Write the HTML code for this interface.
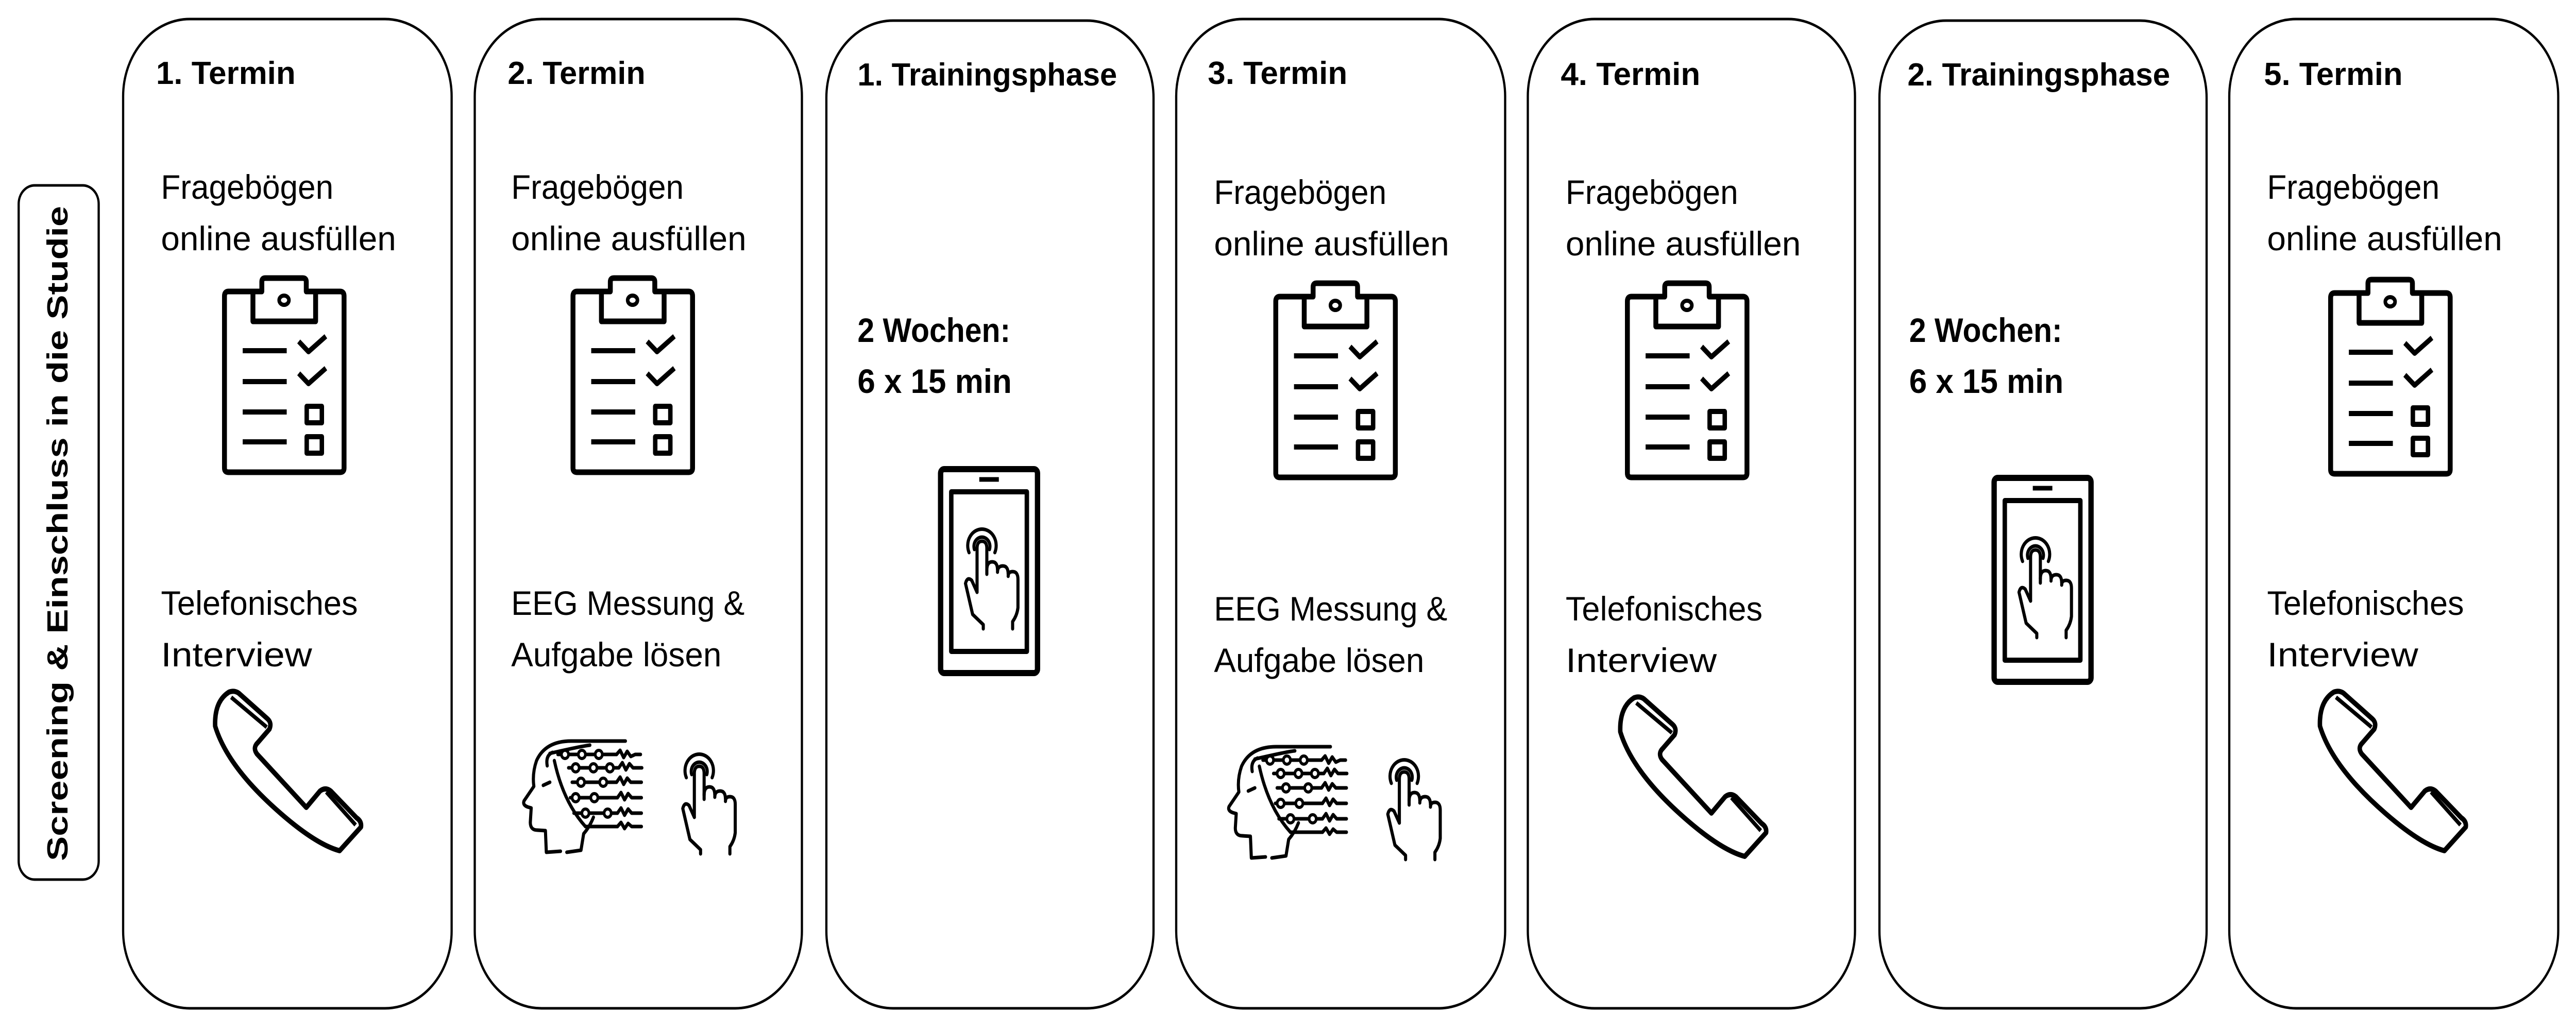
<!DOCTYPE html>
<html><head><meta charset="utf-8"><style>
html,body{margin:0;padding:0;background:#fff;overflow:hidden;width:100%;height:100%;}
svg{display:block;width:100vw;height:100vh}
text{font-family:"Liberation Sans",sans-serif;fill:#000}
.t{font-weight:bold;font-size:62px}
.b{font-size:66px}
.bb{font-size:66px;font-weight:bold}
.box{fill:none;stroke:#000;stroke-width:5}
.ic{fill:none;stroke:#000;stroke-width:11;stroke-linejoin:round;stroke-linecap:butt}
.ic2{fill:none;stroke:#000;stroke-width:7;stroke-linejoin:round;stroke-linecap:round}
</style></head><body>
<svg viewBox="0 0 5795 2004" preserveAspectRatio="none" xmlns="http://www.w3.org/2000/svg">
<defs>
<g id="clip">
 <path class="ic" d="M70,31 L15,31 Q6,31 6,40 L6,374 Q6,382 15,382 L266,382 Q275,382 275,374 L275,40 Q275,31 266,31 L211,31"/>
 <path class="ic" d="M70,31 L70,89 L211,89 L211,31 L190,31 L190,12 Q190,5 182,5 L98,5 Q90,5 90,12 L90,31 Z"/>
 <ellipse cx="140" cy="48" rx="11" ry="9" class="ic" style="stroke-width:8"/>
 <path class="ic" d="M47,146 H146 M47,206 H146 M47,265 H146 M47,323 H146" style="stroke-width:10"/>
 <path class="ic" d="M173,128 L195,148 L234,118 M173,190 L195,210 L234,180" style="stroke-width:10"/>
 <rect x="191" y="254" width="34" height="32" class="ic" style="stroke-width:10"/>
 <rect x="191" y="313" width="34" height="32" class="ic" style="stroke-width:10"/>
</g>
<g id="phone">
 <path class="ic" style="stroke-width:10" d="M33,4 Q0,22 2,70 Q30,150 150,240 Q230,300 282,312 L330,266 Q332,255 320,248 L262,196 Q250,188 238,196 L207,228 L96,124 Q86,112 98,102 L124,76 Q130,64 120,56 L55,6 Q45,0 33,4 Z"/>
 <path class="ic" style="stroke-width:8" d="M38,14 L118,72 M252,198 L318,262"/>
</g>
<g id="finger">
 <path class="ic2" d="M14,58 A32,32 0 1 1 72,58"/>
 <path class="ic2" d="M26,52 A18,18 0 1 1 60,52"/>
 <path class="ic2" d="M32,135 L32,50 Q32,36 43,36 Q54,36 54,50 L54,100"/>
 <path class="ic2" d="M54,92 Q54,76 66,76 Q78,76 78,92 M78,96 Q78,84 90,84 Q102,84 102,100 M102,104 Q102,95 112,95 Q124,95 124,110 L124,165 Q122,180 112,192 L112,206"/>
 <path class="ic2" d="M32,135 L20,112 Q10,104 6,118 L22,178 L46,198 L46,206"/>
</g>
<g id="tablet">
 <rect x="6" y="6" width="218" height="396" rx="8" class="ic" style="stroke-width:12"/>
 <rect x="30" y="50" width="170" height="310" class="ic" style="stroke-width:10"/>
 <path class="ic" d="M93,26 H137" style="stroke-width:9"/>
 <use href="#finger" transform="translate(56,110) scale(1.0)"/>
</g>
<g id="eeg">
 <path class="ic2" d="M118,12 Q60,12 40,50 Q30,75 34,100 L12,128 Q8,136 20,140 L28,142 L26,170 Q26,185 42,185 L60,186 L62,228 L94,226 M108,228 L140,224 L146,192 Q160,178 168,160"/>
 <path class="ic2" d="M118,12 L240,12 M70,36 Q140,22 160,20 M64,60 Q60,40 76,34"/>
 <path class="ic2" d="M80,50 Q100,130 150,178 M55,98 L70,92"/>
 <g class="ic2">
  <path d="M88,38 H220 M112,64 H225 M120,92 H220 M116,122 H222 M124,152 H222 M150,178 H222"/>
  <path d="M220,38 l8,-8 l8,14 l8,-12 l8,10 l10,-4 h12 M225,64 l8,-10 l8,14 l8,-12 l8,8 h20 M220,92 l8,-10 l8,14 l8,-12 l8,8 h24 M222,122 l8,-10 l8,14 l8,-12 l8,8 h22 M222,152 l8,-10 l8,14 l8,-12 l8,8 h22 M222,178 l8,-8 l8,12 l8,-10 l8,6 h22"/>
 </g>
 <g fill="#fff" stroke="#000" stroke-width="6">
  <circle cx="104" cy="38" r="8"/><circle cx="142" cy="38" r="8"/><circle cx="180" cy="38" r="8"/>
  <circle cx="128" cy="64" r="8"/><circle cx="168" cy="64" r="8"/><circle cx="205" cy="64" r="8"/>
  <circle cx="140" cy="92" r="8"/><circle cx="190" cy="92" r="8"/>
  <circle cx="128" cy="122" r="8"/><circle cx="170" cy="122" r="8"/>
  <circle cx="150" cy="152" r="8"/><circle cx="200" cy="152" r="8"/>
 </g>
</g>
</defs>

<rect x="42" y="360" width="180" height="1348" rx="36" class="box"/>
<text class="t" transform="translate(152,1672) rotate(-90)" textLength="1272" lengthAdjust="spacingAndGlyphs" style="font-size:66px">Screening &amp; Einschluss in die Studie</text>

<rect x="277" y="37" width="739" height="1921" rx="150" class="box"/>
<rect x="1068" y="37" width="736" height="1921" rx="150" class="box"/>
<rect x="1859" y="40" width="736" height="1918" rx="150" class="box"/>
<rect x="2646" y="37" width="740" height="1921" rx="150" class="box"/>
<rect x="3437" y="37" width="736" height="1921" rx="150" class="box"/>
<rect x="4228" y="40" width="736" height="1918" rx="150" class="box"/>
<rect x="5015" y="37" width="740" height="1921" rx="150" class="box"/>

<text class="t" x="351" y="163" textLength="314" lengthAdjust="spacingAndGlyphs">1. Termin</text>
<text class="b" x="362" y="386" textLength="388" lengthAdjust="spacingAndGlyphs">Fragebögen</text>
<text class="b" x="362" y="486" textLength="529" lengthAdjust="spacingAndGlyphs">online ausfüllen</text>
<use href="#clip" transform="translate(499,535)"/>
<text class="b" x="362" y="1194" textLength="443" lengthAdjust="spacingAndGlyphs">Telefonisches</text>
<text class="b" x="362" y="1294" textLength="340" lengthAdjust="spacingAndGlyphs">Interview</text>
<use href="#phone" transform="translate(482,1340)"/>

<text class="t" x="1142" y="163" textLength="310" lengthAdjust="spacingAndGlyphs">2. Termin</text>
<text class="b" x="1150" y="386" textLength="388" lengthAdjust="spacingAndGlyphs">Fragebögen</text>
<text class="b" x="1150" y="486" textLength="529" lengthAdjust="spacingAndGlyphs">online ausfüllen</text>
<use href="#clip" transform="translate(1283,535)"/>
<text class="b" x="1150" y="1194" textLength="525" lengthAdjust="spacingAndGlyphs">EEG Messung &amp;</text>
<text class="b" x="1150" y="1294" textLength="473" lengthAdjust="spacingAndGlyphs">Aufgabe lösen</text>
<use href="#eeg" transform="translate(1167,1427)"/>
<use href="#finger" transform="translate(1530,1452)"/>

<text class="t" x="1929" y="166" textLength="584" lengthAdjust="spacingAndGlyphs">1. Trainingsphase</text>
<text class="bb" x="1929" y="664" textLength="344" lengthAdjust="spacingAndGlyphs">2 Wochen:</text>
<text class="bb" x="1929" y="763" textLength="347" lengthAdjust="spacingAndGlyphs">6 x 15 min</text>
<use href="#tablet" transform="translate(2110,905)"/>

<text class="t" x="2717" y="163" textLength="314" lengthAdjust="spacingAndGlyphs">3. Termin</text>
<text class="b" x="2731" y="396" textLength="388" lengthAdjust="spacingAndGlyphs">Fragebögen</text>
<text class="b" x="2731" y="496" textLength="529" lengthAdjust="spacingAndGlyphs">online ausfüllen</text>
<use href="#clip" transform="translate(2864,545)"/>
<text class="b" x="2731" y="1205" textLength="525" lengthAdjust="spacingAndGlyphs">EEG Messung &amp;</text>
<text class="b" x="2731" y="1305" textLength="473" lengthAdjust="spacingAndGlyphs">Aufgabe lösen</text>
<use href="#eeg" transform="translate(2753,1438)"/>
<use href="#finger" transform="translate(3116,1463)"/>

<text class="t" x="3511" y="165" textLength="314" lengthAdjust="spacingAndGlyphs">4. Termin</text>
<text class="b" x="3522" y="396" textLength="388" lengthAdjust="spacingAndGlyphs">Fragebögen</text>
<text class="b" x="3522" y="496" textLength="529" lengthAdjust="spacingAndGlyphs">online ausfüllen</text>
<use href="#clip" transform="translate(3655,545)"/>
<text class="b" x="3522" y="1205" textLength="443" lengthAdjust="spacingAndGlyphs">Telefonisches</text>
<text class="b" x="3522" y="1305" textLength="340" lengthAdjust="spacingAndGlyphs">Interview</text>
<use href="#phone" transform="translate(3643,1351)"/>

<text class="t" x="4291" y="166" textLength="591" lengthAdjust="spacingAndGlyphs">2. Trainingsphase</text>
<text class="bb" x="4295" y="664" textLength="344" lengthAdjust="spacingAndGlyphs">2 Wochen:</text>
<text class="bb" x="4295" y="763" textLength="347" lengthAdjust="spacingAndGlyphs">6 x 15 min</text>
<use href="#tablet" transform="translate(4480,922)"/>

<text class="t" x="5093" y="165" textLength="312" lengthAdjust="spacingAndGlyphs">5. Termin</text>
<text class="b" x="5100" y="386" textLength="388" lengthAdjust="spacingAndGlyphs">Fragebögen</text>
<text class="b" x="5100" y="486" textLength="529" lengthAdjust="spacingAndGlyphs">online ausfüllen</text>
<use href="#clip" transform="translate(5237,538)"/>
<text class="b" x="5100" y="1194" textLength="443" lengthAdjust="spacingAndGlyphs">Telefonisches</text>
<text class="b" x="5100" y="1294" textLength="340" lengthAdjust="spacingAndGlyphs">Interview</text>
<use href="#phone" transform="translate(5217,1340)"/>
</svg>
</body></html>
